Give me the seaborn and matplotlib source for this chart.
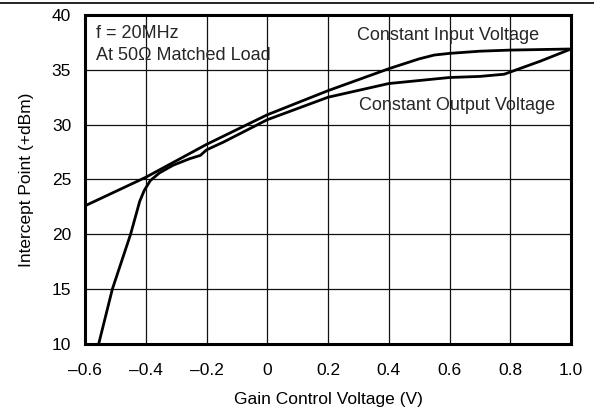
import matplotlib
matplotlib.use("Agg")
import matplotlib.pyplot as plt
import seaborn as sns
import pandas as pd
from matplotlib.lines import Line2D

sns.set_theme(style="white")
plt.rcParams['font.family'] = ['Liberation Sans', 'DejaVu Sans']

# Constant Input Voltage curve
input_x = [-0.6, -0.4, -0.2, 0.0, 0.2, 0.4, 0.5, 0.55, 0.6, 0.7, 0.8, 1.0]
input_y = [22.6, 25.2, 28.2, 30.9, 33.1, 35.1, 36.0, 36.35, 36.5, 36.7, 36.8, 36.9]

# Constant Output Voltage curve
output_x = [-0.555, -0.51, -0.45, -0.42, -0.405, -0.385, -0.355, -0.31, -0.255,
            -0.22, -0.2, -0.145, 0.0, 0.2, 0.4, 0.6, 0.7, 0.78, 0.9, 1.0]
output_y = [10.0, 15.0, 20.0, 23.0, 24.0, 24.9, 25.6, 26.3, 26.9,
            27.2, 27.7, 28.4, 30.45, 32.5, 33.75, 34.3, 34.4, 34.6, 35.8, 36.9]

x_ticks = [-0.6, -0.4, -0.2, 0, 0.2, 0.4, 0.6, 0.8, 1.0]
x_tick_labels = ["\u20130.6", "\u20130.4", "\u20130.2", "0", "0.2", "0.4", "0.6", "0.8", "1.0"]
y_ticks = [10, 15, 20, 25, 30, 35, 40]

df_in = pd.DataFrame({"x": input_x, "y": input_y})
df_out = pd.DataFrame({"x": output_x, "y": output_y})

FS = 12.5
FS_T = 13

fig = plt.figure(figsize=(5.94, 4.09), dpi=100)
ax = fig.add_axes([85/594, 1-344/409, (571-85)/594, (344-15)/409])

sns.lineplot(data=df_in, x="x", y="y", ax=ax, color="black", lw=2.0, sort=False, zorder=3)
sns.lineplot(data=df_out, x="x", y="y", ax=ax, color="black", lw=2.0, sort=False, zorder=3)

ax.set_xlim(-0.6, 1.0)
ax.set_ylim(10, 40)
ax.set_xticks(x_ticks)
ax.set_xticklabels(x_tick_labels)
ax.set_yticks(y_ticks)
ax.grid(True, color="#111111", lw=0.9)
ax.tick_params(axis="x", labelsize=FS, colors="black", length=0, pad=14)
ax.tick_params(axis="y", labelsize=FS, colors="black", length=0, pad=10)
for s in ax.spines.values():
    s.set_color("black")
    s.set_linewidth(2.2)
    s.set_visible(True)

ax.set_xlabel("Gain Control Voltage (V)", fontsize=FS, color="black", labelpad=10)
ax.set_ylabel("Intercept Point (+dBm)", fontsize=FS, color="black", labelpad=13)

ax.text(0.023, 0.945, "f = 20MHz", transform=ax.transAxes, fontsize=FS_T, va="center", ha="left")
ax.text(0.023, 0.878, "At 50\u03a9 Matched Load", transform=ax.transAxes, fontsize=FS_T, va="center", ha="left")
ax.text(0.747, 0.939, "Constant Input Voltage", transform=ax.transAxes, fontsize=FS_T, va="center", ha="center")
ax.text(0.766, 0.726, "Constant Output Voltage", transform=ax.transAxes, fontsize=FS_T, va="center", ha="center")

fig.add_artist(Line2D([0, 1], [1-3/409, 1-3/409], color="black", lw=1.2, transform=fig.transFigure))

fig.savefig("out.png", dpi=100, facecolor="white")
